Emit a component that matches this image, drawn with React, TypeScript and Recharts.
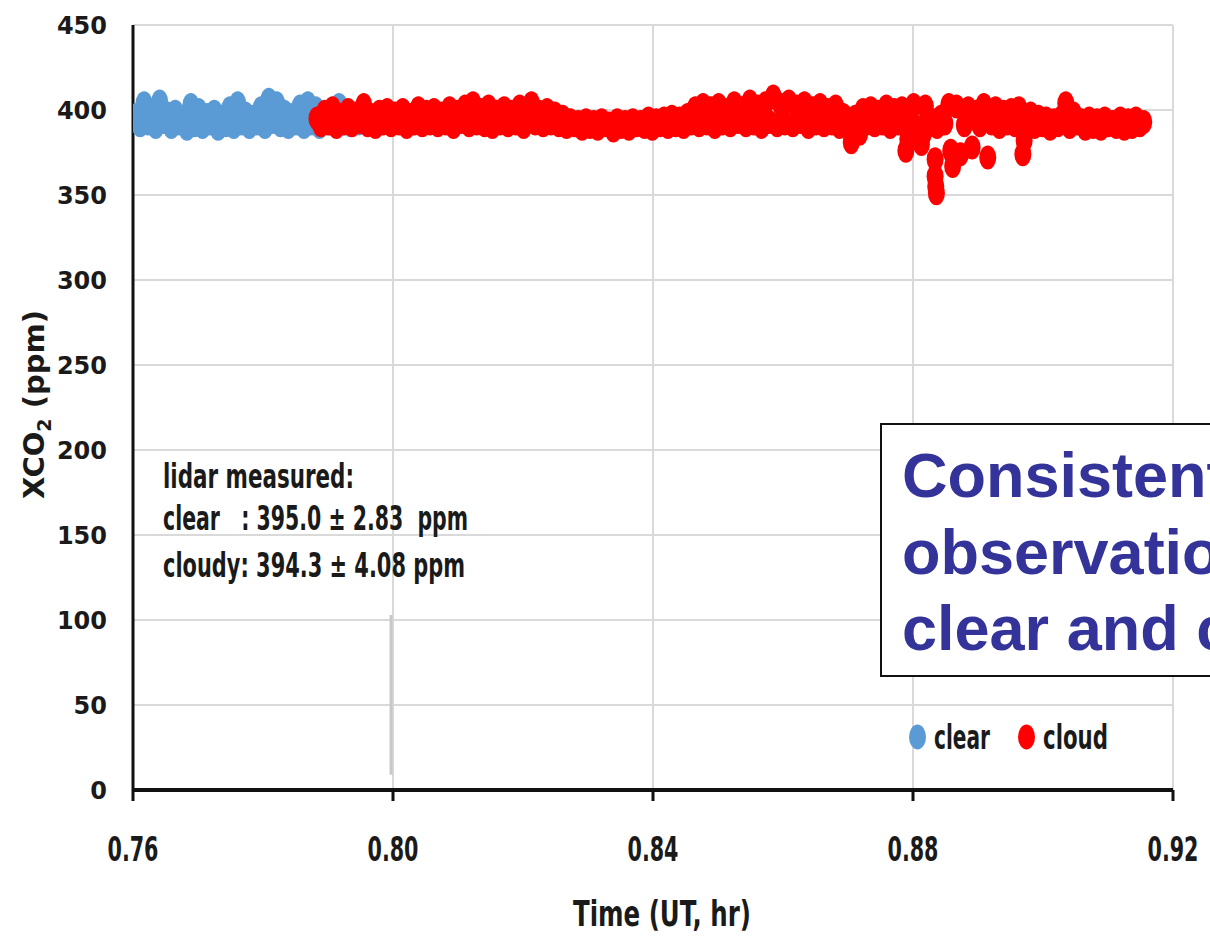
import React from "react";
import { ScatterChart, Scatter, XAxis, YAxis, CartesianGrid, Legend, ReferenceLine } from "recharts";

// clear-sky lidar retrievals (UT hr, XCO2 ppm)
const clearTime = [
  0.7605, 0.7611, 0.7617, 0.7623, 0.7629, 0.7635, 0.7641, 0.7647, 0.7653, 0.7659,
  0.7665, 0.7671, 0.7677, 0.7683, 0.7689, 0.7695, 0.7701, 0.7707, 0.7713, 0.7719,
  0.7725, 0.7731, 0.7737, 0.7743, 0.7749, 0.7755, 0.7761, 0.7767, 0.7773, 0.7779,
  0.7785, 0.7791, 0.7797, 0.7803, 0.7809, 0.7815, 0.7821, 0.7827, 0.7833, 0.7839,
  0.7845, 0.7851, 0.7857, 0.7863, 0.7869, 0.7875, 0.7881, 0.7887, 0.7893, 0.7899,
  0.7905, 0.7911, 0.7917, 0.7923, 0.7929, 0.7935, 0.7941, 0.7947, 0.7953,
];
const clearXco2 = [
  397, 391, 404, 392, 399, 390, 405, 393, 398, 390,
  399, 392, 396, 389, 403, 391, 400, 390, 397, 392,
  399, 389, 396, 391, 401, 390, 404, 392, 398, 390,
  396, 392, 401, 390, 406, 393, 404, 391, 399, 390,
  397, 392, 402, 390, 404, 392, 401, 390, 398, 392,
  400, 391, 403, 392, 399, 391, 397, 392, 395,
];

// cloudy retrievals
const cloudTime = [
  0.7883, 0.7889, 0.7895, 0.7901, 0.7907, 0.7913, 0.7919, 0.7925, 0.7931, 0.7937,
  0.7943, 0.7949, 0.7955, 0.7961, 0.7967, 0.7973, 0.7979, 0.7985, 0.7991, 0.7997,
  0.8003, 0.8009, 0.8015, 0.8021, 0.8027, 0.8033, 0.8039, 0.8045, 0.8051, 0.8057,
  0.8063, 0.8069, 0.8075, 0.8081, 0.8087, 0.8093, 0.8099, 0.8105, 0.8111, 0.8117,
  0.8123, 0.8129, 0.8135, 0.8141, 0.8147, 0.8153, 0.8159, 0.8165, 0.8171, 0.8177,
  0.8183, 0.8189, 0.8195, 0.8201, 0.8207, 0.8213, 0.8219, 0.8225, 0.8231, 0.8237,
  0.8243, 0.8249, 0.8255, 0.8261, 0.8267, 0.8273, 0.8279, 0.8285, 0.8291, 0.8297,
  0.8303, 0.8309, 0.8315, 0.8321, 0.8327, 0.8333, 0.8339, 0.8345, 0.8351, 0.8357,
  0.8363, 0.8369, 0.8375, 0.8381, 0.8387, 0.8393, 0.8399, 0.8405, 0.8411, 0.8417,
  0.8423, 0.8429, 0.8435, 0.8441, 0.8447, 0.8453, 0.8459, 0.8465, 0.8471, 0.8477,
  0.8483, 0.8489, 0.8495, 0.8501, 0.8507, 0.8513, 0.8519, 0.8525, 0.8531, 0.8537,
  0.8543, 0.8549, 0.8555, 0.8561, 0.8567, 0.8573, 0.8579, 0.8585, 0.8591, 0.8597,
  0.8603, 0.8609, 0.8615, 0.8621, 0.8627, 0.8633, 0.8639, 0.8645, 0.8651, 0.8657,
  0.8663, 0.8669, 0.8675, 0.8681, 0.8687, 0.8693, 0.8699, 0.8705, 0.8711, 0.8717,
  0.8723, 0.8729, 0.8735, 0.8741, 0.8747, 0.8753, 0.8759, 0.8765, 0.8771, 0.8777,
  0.8783, 0.8789, 0.8795, 0.8801, 0.8807, 0.8813, 0.8819, 0.8825, 0.8831, 0.8837,
  0.8843, 0.8849, 0.8855, 0.8861, 0.8867, 0.8873, 0.8879, 0.8885, 0.8891, 0.8897,
  0.8903, 0.8909, 0.8915, 0.8921, 0.8927, 0.8933, 0.8939, 0.8945, 0.8951, 0.8957,
  0.8963, 0.8969, 0.8975, 0.8981, 0.8987, 0.8993, 0.8999, 0.9005, 0.9011, 0.9017,
  0.9023, 0.9029, 0.9035, 0.9041, 0.9047, 0.9053, 0.9059, 0.9065, 0.9071, 0.9077,
  0.9083, 0.9089, 0.9095, 0.9101, 0.9107, 0.9113, 0.9119, 0.9125, 0.9131, 0.9137,
  0.9143, 0.9149, 0.9155,
  // low outliers under the band
  0.8792, 0.8816, 0.8834, 0.8834, 0.8835, 0.8836, 0.8858, 0.8971, 0.8718,
];
const cloudXco2 = [
  395, 391, 399, 392, 401, 390, 397, 392, 400, 391,
  398, 393, 403, 391, 397, 390, 399, 392, 400, 391,
  398, 392, 400, 390, 397, 392, 401, 391, 399, 392,
  400, 391, 398, 392, 401, 390, 399, 393, 402, 391,
  404, 392, 400, 391, 402, 390, 399, 392, 401, 391,
  399, 392, 402, 390, 401, 404, 392, 399, 391, 400,
  392, 398, 391, 396, 390, 394, 391, 393, 389, 394,
  390, 393, 389, 394, 391, 392, 388, 394, 390, 393,
  389, 394, 391, 393, 390, 395, 389, 394, 391, 395,
  390, 396, 391, 395, 390, 397, 392, 401, 391, 403,
  392, 401, 390, 403, 392, 400, 391, 404, 393, 401,
  391, 405, 392, 402, 390, 404, 393, 408, 391, 403,
  392, 405, 391, 402, 393, 404, 390, 401, 392, 403,
  391, 400, 392, 402, 390, 397, 393, 381, 396, 391,
  400, 392, 401, 391, 399, 392, 402, 390, 400, 392,
  401, 376, 392, 403, 390, 380, 402, 391, 394, 390,
  396, 392, 403, 367, 402, 374, 391, 401, 378, 399,
  391, 403, 372, 392, 401, 390, 399, 392, 400, 391,
  401, 374, 392, 398, 390, 396, 391, 395, 389, 394,
  391, 396, 404, 390, 398, 392, 394, 389, 395, 390,
  394, 389, 395, 391, 393, 390, 395, 389, 394, 390,
  395, 391, 393,
  383, 386, 371, 361, 355, 351, 376, 382, 386,
];

const xTicks = [0.76, 0.8, 0.84, 0.88, 0.92];
const yTicks = [0, 50, 100, 150, 200, 250, 300, 350, 400, 450];
const statLines = [
  "lidar measured:",
  "clear   : 395.0 \u00b1 2.83  ppm",
  "cloudy: 394.3 \u00b1 4.08 ppm",
];
const boxLines = ["Consistent", "observations", "clear and cloudy"];

const clearData = clearTime.map((t, i) => ({ t, v: clearXco2[i] }));
const cloudData = cloudTime.map((t, i) => ({ t, v: cloudXco2[i] }));

const narrow = "'DejaVu Sans Condensed', 'DejaVu Sans', sans-serif";

const blob = (color: string) => (p: any) =>
  <ellipse cx={p.cx} cy={p.cy} rx={8.5} ry={12} fill={color} />;

function XTick({ x, y, payload }: any) {
  return (
    <text x={x} y={y + 58} textAnchor="middle" fontFamily={narrow} fontWeight="bold"
      fontSize={34} fill="#1a1a1a" textLength={51} lengthAdjust="spacingAndGlyphs">
      {Number(payload.value).toFixed(2)}
    </text>
  );
}

function XTitle(props: any) {
  const vb = props.viewBox || { x: 133, y: 790, width: 1040, height: 154 };
  return (
    <text x={vb.x + vb.width / 2 + 9} y={vb.y + 136} textAnchor="middle" fontFamily={narrow}
      fontWeight="bold" fontSize={35} fill="#1a1a1a" textLength={178} lengthAdjust="spacingAndGlyphs">
      Time (UT, hr)
    </text>
  );
}

function YTitle(props: any) {
  const vb = props.viewBox || { x: 0, y: 25, width: 133, height: 765 };
  const cx = vb.x + 44;
  const cy = vb.y + vb.height / 2 - 3;
  return (
    <text transform={`translate(${cx},${cy}) rotate(-90)`} textAnchor="middle"
      fontFamily="'DejaVu Sans', sans-serif" fontWeight="bold" fontSize={29} fill="#1a1a1a">
      XCO<tspan fontSize={19} dy={7}>2</tspan><tspan dy={-7}> (ppm)</tspan>
    </text>
  );
}

function LegendBox({ payload }: any) {
  const items = payload || [];
  return (
    <svg width={230} height={46}>
      {items.map((e: any, i: number) => (
        <g key={e.value} transform={`translate(${i * 109},0)`}>
          <ellipse cx={17.5} cy={22} rx={8.5} ry={12.5} fill={e.color} />
          <text x={34} y={34} fontFamily={narrow} fontWeight="bold" fontSize={34} fill="#1a1a1a"
            textLength={i === 0 ? 56 : 65} lengthAdjust="spacingAndGlyphs">
            {e.value}
          </text>
        </g>
      ))}
    </svg>
  );
}

export default function App() {
  return (
    <div style={{ position: "absolute", left: 0, top: 0, width: 1210, height: 944, overflow: "hidden", background: "#fff" }}>
      <ScatterChart width={1210} height={944} margin={{ top: 25, right: 37, bottom: 0, left: 0 }}>
        <CartesianGrid stroke="#d9d9d9" strokeWidth={2} />
        <XAxis type="number" dataKey="t" domain={[0.76, 0.92]} ticks={xTicks} height={154}
          axisLine={{ stroke: "#111", strokeWidth: 4 }} tickLine={{ stroke: "#111", strokeWidth: 3 }}
          tickSize={11} tick={<XTick />} label={<XTitle />} allowDataOverflow />
        <YAxis type="number" dataKey="v" domain={[0, 450]} ticks={yTicks} width={133}
          axisLine={{ stroke: "#111", strokeWidth: 3 }} tickLine={false} tickSize={0} tickMargin={26}
          tick={{ fontFamily: "'DejaVu Sans', sans-serif", fontWeight: "bold", fontSize: 24, fill: "#1a1a1a" }}
          label={<YTitle />} allowDataOverflow />
        <ReferenceLine segment={[{ x: 0.7997, y: 9 }, { x: 0.7997, y: 103 }]} stroke="#c8c8c8" strokeWidth={3} />
        <Scatter name="clear" data={clearData} fill="#5b9bd5" shape={blob("#5b9bd5")} isAnimationActive={false} />
        <Scatter name="cloud" data={cloudData} fill="#ff0000" shape={blob("#ff0000")} isAnimationActive={false} />
        <Legend layout="horizontal" verticalAlign="middle" align="center" content={<LegendBox />}
          wrapperStyle={{ left: 900, top: 715, width: 230, height: 46 }} />
      </ScatterChart>
      <svg width={1210} height={944} style={{ position: "absolute", left: 0, top: 0, pointerEvents: "none" }}>
        {statLines.map((s, i) => (
          <text key={s} x={163} y={[488, 530, 577][i]} fontFamily={narrow} fontWeight="bold" fontSize={34}
            fill="#1a1a1a" style={{ whiteSpace: "pre" }} textLength={[191, 305, 302][i]}
            lengthAdjust="spacingAndGlyphs">
            {s}
          </text>
        ))}
        <rect x={881} y={424} width={420} height={252} fill="#fff" stroke="#111" strokeWidth={2} />
        {boxLines.map((s, i) => (
          <text key={s} x={902} y={497 + i * 76.5} fontFamily="'Liberation Sans', Arial, sans-serif"
            fontWeight="bold" fontSize={63} fill="#333399">
            {s}
          </text>
        ))}
      </svg>
    </div>
  );
}
